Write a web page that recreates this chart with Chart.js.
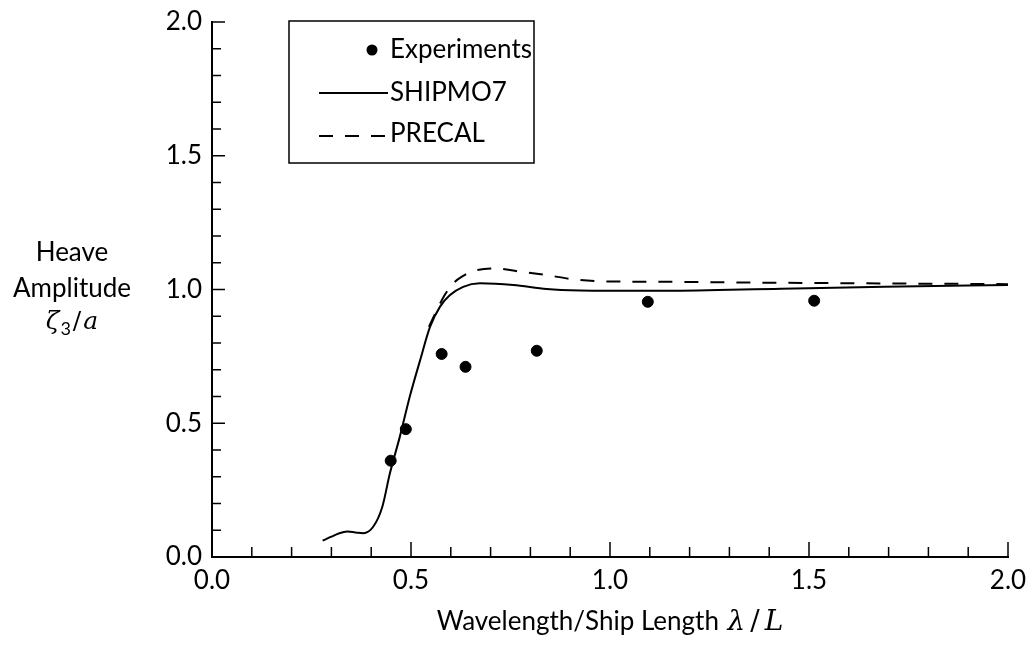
<!DOCTYPE html>
<html>
<head>
<meta charset="utf-8">
<title>Heave Amplitude</title>
<script src="https://cdn.jsdelivr.net/npm/chart.js@4.4.1/dist/chart.umd.min.js"></script>
<style>
  html, body { margin: 0; padding: 0; background: #fff; }
  canvas { display: block; }
</style>
</head>
<body>
<canvas id="heaveChart" width="1029" height="646"></canvas>
<script>
// Heave response: experiments vs SHIPMO7 vs PRECAL

const expX = [0.449, 0.487, 0.577, 0.637, 0.816, 1.095, 1.513];
const expY = [0.36, 0.478, 0.759, 0.711, 0.771, 0.954, 0.958];

const shipmoX = [0.278, 0.30, 0.32, 0.340, 0.36, 0.38, 0.405, 0.428, 0.447, 0.472, 0.497, 0.523, 0.548, 0.573, 0.598, 0.631, 0.673, 0.757, 0.841, 0.925, 1.0, 1.14, 1.43, 1.69, 2.0];
const shipmoY = [0.061, 0.076, 0.089, 0.095, 0.092, 0.089, 0.113, 0.188, 0.313, 0.45, 0.60, 0.736, 0.861, 0.936, 0.979, 1.01, 1.023, 1.017, 1.002, 0.996, 0.995, 0.995, 1.003, 1.01, 1.017];

const precalX = [0.545, 0.565, 0.585, 0.606, 0.63, 0.652, 0.707, 0.774, 0.841, 0.908, 1.0, 1.10, 1.43, 2.0];
const precalY = [0.86, 0.923, 0.98, 1.023, 1.05, 1.067, 1.079, 1.067, 1.054, 1.038, 1.03, 1.029, 1.025, 1.02];

const xTicks = [0.0, 0.5, 1.0, 1.5, 2.0];
const yTicks = [0.0, 0.5, 1.0, 1.5, 2.0];

const sansFont = 'Lato, "Open Sans", sans-serif';
const serifFont = '"DejaVu Serif", "Liberation Serif", serif';

function toPoints(xs, ys) {
  return xs.map((x, i) => ({ x: x, y: ys[i] }));
}

// draws a run of [text, font, dy, gapAfter] pieces starting at x
function drawRun(ctx, pieces, x, y) {
  pieces.forEach(p => {
    ctx.font = p[1];
    ctx.fillText(p[0], x, y + (p[2] || 0));
    x += ctx.measureText(p[0]).width + (p[3] || 0);
  });
}

function runWidth(ctx, pieces) {
  let w = 0;
  pieces.forEach((p, i) => {
    ctx.font = p[1];
    w += ctx.measureText(p[0]).width + (i < pieces.length - 1 ? (p[3] || 0) : 0);
  });
  return w;
}

// inward major/minor ticks on both axes
const tickMarks = {
  id: 'tickMarks',
  afterDraw(chart) {
    const ctx = chart.ctx;
    const xs = chart.scales.x;
    const ys = chart.scales.y;
    const area = chart.chartArea;
    ctx.save();
    ctx.strokeStyle = '#000';
    ctx.lineWidth = 1.5;
    for (let i = 0; i <= 20; i++) {
      const v = i / 10;
      const major = i % 5 === 0;
      const px = xs.getPixelForValue(v);
      ctx.beginPath();
      ctx.moveTo(px, area.bottom);
      ctx.lineTo(px, area.bottom - (major ? 15 : 10));
      ctx.stroke();
      const py = ys.getPixelForValue(v);
      ctx.beginPath();
      ctx.moveTo(area.left, py);
      ctx.lineTo(area.left + (major ? 13 : 9), py);
      ctx.stroke();
    }
    ctx.restore();
  }
};

// axis titles drawn as plain text
const axisTitles = {
  id: 'axisTitles',
  afterDraw(chart) {
    const ctx = chart.ctx;
    const area = chart.chartArea;
    ctx.save();
    ctx.fillStyle = '#000';
    ctx.textBaseline = 'alphabetic';

    // y title, three stacked lines
    const cx = 72;
    ctx.textAlign = 'center';
    ctx.font = '26px ' + sansFont;
    ctx.fillText('Heave', cx, 261);
    ctx.fillText('Amplitude', cx, 297);
    ctx.textAlign = 'left';
    const zetaRun = [
      ['ζ', 'italic 25px ' + serifFont, 0, 1],
      ['3', '18px ' + sansFont, 6, 2],
      ['/', '25px ' + serifFont, 0, 2],
      ['a', 'italic 25px ' + serifFont, 0, 0]
    ];
    const zw = runWidth(ctx, zetaRun);
    drawRun(ctx, zetaRun, cx - zw / 2, 329);

    // x title
    const xRun = [
      ['Wavelength/Ship Length', '26px ' + sansFont, 0, 0],
      [' ', '26px ' + sansFont, 0, 2],
      ['λ', 'italic 28px ' + serifFont, 0, 5],
      ['/', '28px ' + serifFont, 0, 5],
      ['L', 'italic 28px ' + serifFont, 0, 0]
    ];
    const xw = runWidth(ctx, xRun);
    const mid = (area.left + area.right) / 2;
    drawRun(ctx, xRun, mid - xw / 2, 630);
    ctx.restore();
  }
};

// boxed legend in the upper left of the plot
const boxLegend = {
  id: 'boxLegend',
  afterDraw(chart) {
    const ctx = chart.ctx;
    const area = chart.chartArea;
    const left = area.left + 77;
    const top = area.top - 1;
    ctx.save();
    ctx.strokeStyle = '#000';
    ctx.lineWidth = 1.5;
    ctx.strokeRect(left, top, 245, 142);

    ctx.fillStyle = '#000';
    ctx.font = '26px ' + sansFont;
    ctx.textAlign = 'left';
    ctx.textBaseline = 'alphabetic';
    const textX = left + 101;

    // Experiments
    ctx.beginPath();
    ctx.arc(left + 83, top + 29, 5.5, 0, Math.PI * 2);
    ctx.fill();
    ctx.fillText('Experiments', textX, top + 37);

    // SHIPMO7
    ctx.lineWidth = 2;
    ctx.beginPath();
    ctx.moveTo(left + 30, top + 72);
    ctx.lineTo(left + 99, top + 72);
    ctx.stroke();
    ctx.fillText('SHIPMO7', textX, top + 80);

    // PRECAL
    ctx.setLineDash([14, 12]);
    ctx.beginPath();
    ctx.moveTo(left + 30, top + 115);
    ctx.lineTo(left + 99, top + 115);
    ctx.stroke();
    ctx.setLineDash([]);
    ctx.fillText('PRECAL', textX, top + 121);
    ctx.restore();
  }
};

const ctx = document.getElementById('heaveChart').getContext('2d');
new Chart(ctx, {
  type: 'scatter',
  data: {
    datasets: [
      {
        label: 'Experiments',
        data: toPoints(expX, expY),
        backgroundColor: '#000',
        borderColor: '#000',
        pointRadius: 5.5,
        showLine: false
      },
      {
        label: 'SHIPMO7',
        data: toPoints(shipmoX, shipmoY),
        borderColor: '#000',
        borderWidth: 2,
        pointRadius: 0,
        showLine: true,
        cubicInterpolationMode: 'monotone'
      },
      {
        label: 'PRECAL',
        data: toPoints(precalX, precalY),
        borderColor: '#000',
        borderWidth: 2,
        borderDash: [14, 12],
        pointRadius: 0,
        showLine: true,
        cubicInterpolationMode: 'monotone'
      }
    ]
  },
  options: {
    responsive: false,
    animation: false,
    layout: { padding: { left: 0, top: 22, right: 21, bottom: 0 } },
    plugins: {
      legend: { display: false },
      tooltip: { enabled: false }
    },
    scales: {
      x: {
        type: 'linear',
        min: 0,
        max: 2,
        afterFit: s => { s.height = 89; s.paddingLeft = 0; s.paddingRight = 0; },
        afterBuildTicks: s => { s.ticks = xTicks.map(v => ({ value: v })); },
        grid: { display: false, drawTicks: false },
        border: { display: true, color: '#000', width: 2 },
        ticks: {
          color: '#000',
          font: { family: sansFont, size: 26 },
          padding: 8,
          maxRotation: 0,
          callback: v => v.toFixed(1)
        }
      },
      y: {
        type: 'linear',
        min: 0,
        max: 2,
        afterFit: s => { s.width = 212; s.paddingTop = 0; s.paddingBottom = 0; },
        afterBuildTicks: s => { s.ticks = yTicks.map(v => ({ value: v })); },
        grid: { display: false, drawTicks: false },
        border: { display: true, color: '#000', width: 2 },
        ticks: {
          color: '#000',
          font: { family: sansFont, size: 26 },
          padding: 10,
          callback: v => v.toFixed(1)
        }
      }
    }
  },
  plugins: [tickMarks, axisTitles, boxLegend]
});
</script>
</body>
</html>
